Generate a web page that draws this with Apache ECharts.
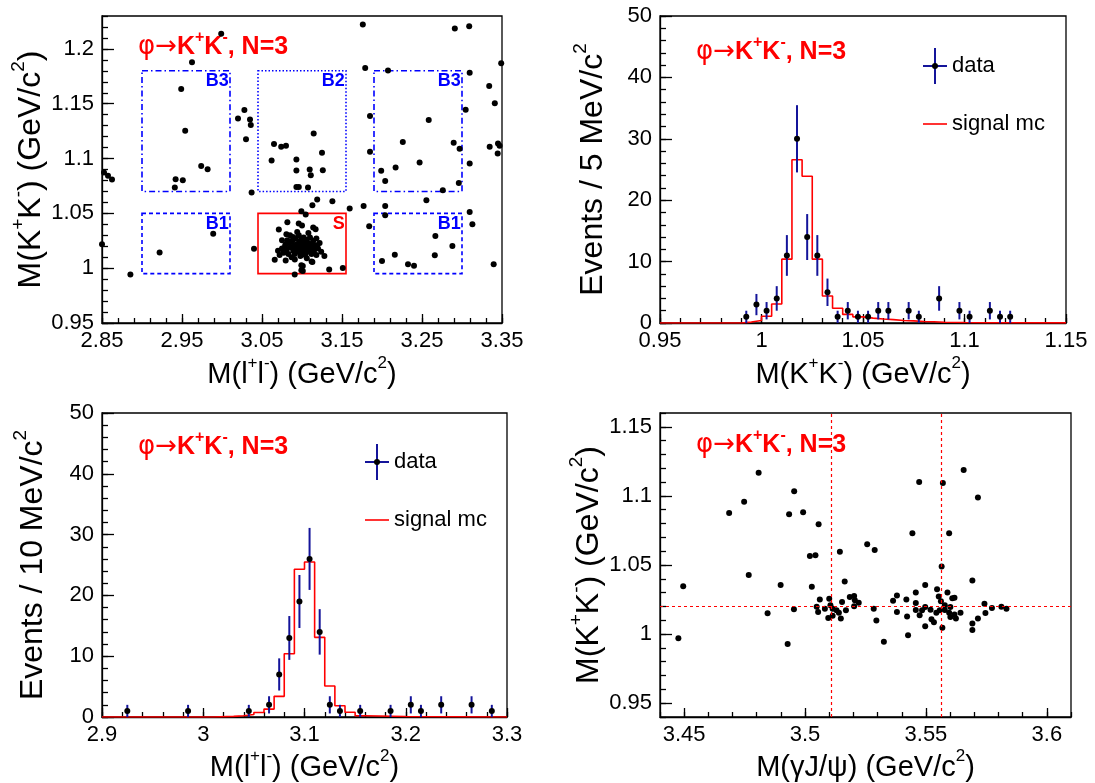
<!DOCTYPE html>
<html>
<head>
<meta charset="utf-8">
<script src="https://cdn.jsdelivr.net/npm/echarts@6/dist/echarts.min.js"></script>
<style>
  html, body { margin: 0; padding: 0; background: #fff; }
  #chart { width: 1095px; height: 783px; }
</style>
</head>
<body>
<div id="chart"></div>
<script>
// ---------- data ----------
// M(l+l-) vs M(K+K-) candidates, GeV/c^2
const mllVsMkk = [
  [2.999,1.2137],[2.9625,1.1878],[2.949,1.1634],[2.954,1.1253],[3.02,1.1366],[3.028,1.1442],[3.035,1.1357],
  [3.036,1.1305],[3.03,1.1175],[3.065,1.1132],[3.062,1.0983],[3.074,1.1107],[3.080,1.1116],[3.093,1.0992],
  [2.974,1.0933],[2.982,1.0903],[2.942,1.0812],[2.951,1.0803],[2.941,1.0736],[2.8525,1.0873],[2.8575,1.0842],
  [2.8625,1.0809],[3.037,1.069],[2.989,1.0315],[2.922,1.0142],[2.85,1.0218],[2.8855,0.9943],[3.04,1.0178],
  [3.093,1.089],[3.093,1.0741],[3.096,1.0741],
  [3.176,1.2222],[3.291,1.2186],[3.309,1.2207],[3.179,1.1826],[3.2075,1.1802],[3.3096,1.1783],[3.349,1.1869],
  [3.334,1.1662],[3.341,1.1504],[3.3046,1.1445],[3.185,1.1388],[3.2584,1.1351],[3.1146,1.1229],[3.226,1.115],
  [3.2896,1.1144],[3.297,1.1089],[3.3346,1.1107],[3.345,1.1138],[3.347,1.1116],[3.3446,1.1047],[3.125,1.1052],
  [3.185,1.1061],[3.247,1.0964],[3.217,1.0919],[3.3096,1.0955],
  [3.1096,1.090],[3.126,1.0894],[3.111,1.0848],[3.1075,1.0736],[3.199,1.0888],[3.204,1.0796],[3.296,1.0778],
  [3.276,1.0711],[3.2555,1.062],[3.119,1.0626],[3.138,1.061],[3.113,1.0574],[3.1596,1.0544],[3.177,1.0568],
  [3.204,1.0568],[3.204,1.0483],[3.3096,1.0513],[3.313,1.04],[3.184,1.0382],[3.2667,1.0293],[3.288,1.0202],
  [3.20,1.0065],[3.216,1.0123],[3.2325,1.0035],[3.24,1.0023],[3.266,1.0117],[3.3396,1.0035],
  // signal region
  [3.0659,1.0078],[3.0710,1.0352],[3.0750,1.0254],[3.0796,1.0071],[3.0805,1.0309],[3.0817,1.0419],[3.0817,1.0254],
  [3.0887,1.0284],[3.0959,1.0407],[3.0992,1.0519],[3.0992,1.0026],[3.0992,0.9980],[3.0909,0.9943],
  [3.1340,0.9989],[3.1510,1.0001],[3.1280,1.0110],[3.1190,1.0208],[3.1140,1.0370],[3.1170,1.0355],[3.1000,1.0390],
  [3.1046,1.0489],[3.1130,1.0056],[3.1010,1.0020],[3.1010,0.9974],
  [3.070,1.016],[3.072,1.012],[3.075,1.018],[3.077,1.014],[3.079,1.021],[3.081,1.017],[3.083,1.013],[3.084,1.023],
  [3.086,1.019],[3.087,1.010],[3.088,1.025],[3.089,1.016],[3.090,1.021],[3.091,1.013],[3.092,1.027],[3.093,1.018],
  [3.094,1.022],[3.095,1.015],[3.096,1.030],[3.096,1.020],[3.097,1.024],[3.098,1.017],[3.098,1.011],[3.099,1.026],
  [3.100,1.019],[3.100,1.022],[3.101,1.015],[3.102,1.028],[3.102,1.020],[3.103,1.024],[3.104,1.017],[3.104,1.012],
  [3.105,1.021],[3.106,1.026],[3.106,1.018],[3.107,1.023],[3.108,1.015],[3.109,1.020],[3.110,1.028],[3.110,1.017],
  [3.111,1.022],[3.112,1.013],[3.113,1.019],[3.114,1.025],[3.115,1.016],[3.116,1.021],[3.118,1.012],[3.120,1.018],
  [3.122,1.023],[3.124,1.015],[3.085,1.030],[3.094,1.033],[3.108,1.032],[3.091,1.008],[3.106,1.009],[3.118,1.027],
  [3.080,1.022],[3.112,1.006]
];

// signal / sideband boxes
const regionNames = ['B3', 'B2', 'B3', 'B1', 'S', 'B1'];
const regionLL = [[2.90,3.01],[3.045,3.155],[3.19,3.30],[2.90,3.01],[3.045,3.155],[3.19,3.30]];
const regionKK = [[1.07,1.18],[1.07,1.18],[1.07,1.18],[0.995,1.05],[0.995,1.05],[0.995,1.05]];

// M(K+K-) data, 5 MeV bins (bin centres, entries)
const kkCenters = [0.9925,0.9975,1.0025,1.0075,1.0125,1.0175,1.0225,1.0275,1.0325,1.0375,1.0425,1.0475,
                   1.0525,1.0575,1.0625,1.0725,1.0775,1.0875,1.0975,1.1025,1.1125,1.1175,1.1225];
const kkCounts  = [1,3,2,4,11,30,14,11,5,1,2,1,1,2,2,2,1,4,2,1,2,1,1];
// signal MC for M(K+K-), bin edges and contents
const kkMcEdges  = [0.95,0.99,0.995,1.0,1.005,1.01,1.015,1.02,1.025,1.03,1.035,1.04,1.045,1.05,1.055,1.06,
                    1.065,1.07,1.075,1.08,1.085,1.09,1.1,1.11,1.15];
const kkMcValues = [0,0.15,0.4,1.1,3.1,10.4,26.6,23.9,10.4,4.4,2.4,1.4,1.0,0.8,0.65,0.55,0.4,0.35,0.25,0.2,
                    0.12,0.08,0.05,0.02];

// M(l+l-) data, 10 MeV bins
const llCenters = [2.925,2.985,3.045,3.065,3.075,3.085,3.095,3.105,3.115,3.125,3.135,3.155,3.185,3.205,3.215,
                   3.235,3.265,3.285];
const llCounts  = [1,1,1,2,7,13,19,26,14,2,1,1,1,2,1,2,2,1];
const llMcEdges  = [2.9,3.01,3.03,3.04,3.05,3.06,3.07,3.08,3.09,3.10,3.11,3.12,3.13,3.14,3.15,3.16,3.2,3.3];
const llMcValues = [0,0.1,0.2,0.4,0.75,1.3,3.4,10.4,24.3,25.5,13.1,5.1,1.85,0.77,0.2,0.08,0];

// M(gamma J/psi) vs M(K+K-)
const mgjVsMkk = [
  [3.4476,0.9969],[3.4496,1.0347],[3.4686,1.0877],[3.4748,1.0958],[3.4808,1.1168],[3.4767,1.0428],[3.4845,1.0150],
  [3.4899,1.0356],[3.4928,0.9928],[3.4934,1.0867],[3.4955,1.1034],[3.4954,1.0179],[3.4992,1.0881],[3.5056,1.0795],
  [3.5020,1.0566],[3.5043,1.0571],[3.5028,1.0342],[3.5061,1.0251],[3.5048,1.0198],[3.5054,1.0160],[3.5082,1.0184],
  [3.5100,1.0256],[3.5105,1.0208],[3.5114,1.0184],[3.5096,1.0117],[3.5114,1.0132],[3.5130,1.0172],[3.5140,1.0155],
  [3.5148,1.0112],[3.5144,1.0595],[3.5164,1.0380],[3.5153,1.0232],[3.5169,1.0172],[3.5185,1.0268],[3.5203,1.0275],
  [3.5206,1.0244],[3.5203,1.0201],[3.5222,1.0227],[3.5257,1.0650],[3.5288,1.0609],[3.5284,1.0184],[3.5295,1.0098],
  [3.5326,0.9945],[3.5364,1.0241],[3.5380,1.0279],[3.5380,1.0160],[3.5419,1.0251],[3.5422,1.0127],[3.5426,0.9991],
  [3.5444,1.0729],[3.5472,1.1101],[3.5458,1.0301],[3.5458,1.0225],[3.5458,1.0175],[3.5474,1.0136],[3.5484,1.0172],
  [3.5497,1.0356],[3.5497,1.0196],[3.5497,1.0057],[3.5519,1.0177],[3.5523,1.0107],[3.5533,1.0086],[3.5546,1.0325],
  [3.5553,1.0272],[3.5543,1.0155],[3.5557,1.0172],[3.5565,1.0490],[3.5570,1.1094],[3.5562,1.0237],[3.5568,1.0046],
  [3.5578,1.0208],[3.5578,1.0175],[3.5589,1.0301],[3.5596,1.0729],[3.5596,1.0155],[3.5601,1.0196],[3.5609,1.0260],
  [3.5618,1.0263],[3.5601,1.0124],[3.5624,1.0112],[3.5618,1.0141],[3.5643,1.0155],[3.5656,1.1187],[3.5692,1.0387],
  [3.5692,1.0077],[3.5692,1.0029],[3.5715,1.0989],[3.5715,1.0112],[3.5742,1.0220],[3.5746,1.0153],[3.5773,1.0189],
  [3.5812,1.0198],[3.5833,1.0184]
];
// reference masses: chi_c1, chi_c2 and phi
const chiMasses = [3.5107, 3.5562];
const phiMass = [1.02];

// axis ticks
const p1XTicks = [2.85, 2.95, 3.05, 3.15, 3.25, 3.35];
const p1YTicks = [0.95, 1.0, 1.05, 1.1, 1.15, 1.2];
const p2XTicks = [0.95, 1.0, 1.05, 1.1, 1.15];
const countTicks = [0, 10, 20, 30, 40, 50];
const p3XTicks = [2.9, 3.0, 3.1, 3.2, 3.3];
const p4XTicks = [3.45, 3.5, 3.55, 3.6];
const p4YTicks = [0.95, 1.0, 1.05, 1.1, 1.15];

// ---------- styling ----------
const FONT = '"Liberation Sans", Arial, Helvetica, sans-serif';
const SYMFONT = '"DejaVu Sans", "Liberation Sans", sans-serif';
const RED = '#ff0000';
const BLUE = '#0000ff';
const BAR = '#14149a';

const fmt = v => String(Math.round(v * 100) / 100);

// five subdivisions between consecutive major ticks, extended to the axis ends
function minorsOf(majors, min, max) {
  const step = (majors[1] - majors[0]) / 5;
  const out = [];
  for (let v = majors[0]; v >= min - 1e-9; v -= step) out.push(+v.toFixed(4));
  for (let v = majors[0] + step; v <= max + 1e-9; v += step) out.push(+v.toFixed(4));
  return out;
}

const nameRichX = {
  n: { fontSize: 29, fontFamily: FONT, color: '#000', lineHeight: 34, verticalAlign: 'bottom' },
  s: { fontSize: 17, fontFamily: FONT, color: '#000', lineHeight: 14, verticalAlign: 'top' }
};
const nameRichY = {
  n: { fontSize: 32, fontFamily: FONT, color: '#000', lineHeight: 38, verticalAlign: 'bottom' },
  s: { fontSize: 19, fontFamily: FONT, color: '#000', lineHeight: 16, verticalAlign: 'top' }
};

function axisPair(dim, grid, min, max, majors, name, gap, majLen, minLen) {
  const major = {
    type: 'value', gridIndex: grid, min, max,
    position: dim === 'x' ? 'bottom' : 'left',
    axisLine: { onZero: false, lineStyle: { color: '#000', width: 1.3 } },
    axisTick: { inside: true, length: majLen, customValues: majors, lineStyle: { color: '#000', width: 1.3 } },
    axisLabel: { customValues: majors, formatter: fmt, fontSize: 22, fontFamily: FONT, color: '#000', margin: dim === 'x' ? 7 : 8 },
    splitLine: { show: false },
    name, nameLocation: 'middle', nameGap: gap,
    nameRotate: dim === 'x' ? 0 : 90,
    nameTextStyle: { rich: dim === 'x' ? nameRichX : nameRichY }
  };
  const minor = {
    type: 'value', gridIndex: grid, min, max,
    position: dim === 'x' ? 'bottom' : 'left',
    axisLine: { show: false, onZero: false },
    axisTick: { inside: true, length: minLen, customValues: minorsOf(majors, min, max), lineStyle: { color: '#000', width: 1.3 } },
    axisLabel: { show: false },
    splitLine: { show: false }
  };
  return [major, minor];
}

const nameLL = '{n|M(l}{s|+}{n|l}{s|-}{n|) (GeV/c}{s|2}{n|)}';
const nameKK = '{n|M(K}{s|+}{n|K}{s|-}{n|) (GeV/c}{s|2}{n|)}';
const nameGJ = '{n|M(γJ/ψ) (GeV/c}{s|2}{n|)}';
const nameEv5 = '{n|Events / 5 MeV/c}{s|2}';
const nameEv10 = '{n|Events / 10 MeV/c}{s|2}';

const grids = [
  { left: 102, top: 16, width: 400, height: 307 },
  { left: 660, top: 16, width: 406, height: 307 },
  { left: 102, top: 413, width: 405, height: 307 },
  { left: 660, top: 413, width: 411, height: 305 }
].map(g => Object.assign({ show: true, borderColor: '#000', borderWidth: 1.3, backgroundColor: 'transparent' }, g));

const xAxis = [].concat(
  axisPair('x', 0, 2.85, 3.35, p1XTicks, nameLL, 32, 9, 5),
  axisPair('x', 1, 0.95, 1.15, p2XTicks, nameKK, 32, 9, 5),
  axisPair('x', 2, 2.9, 3.3, p3XTicks, nameLL, 31, 9, 5),
  axisPair('x', 3, 3.44, 3.61, p4XTicks, nameGJ, 31, 9, 5)
);
const yAxis = [].concat(
  axisPair('y', 0, 0.95, 1.23, p1YTicks, nameKK, 55, 12, 6),
  axisPair('y', 1, 0, 50, countTicks, nameEv5, 51, 12, 6),
  axisPair('y', 2, 0, 50, countTicks, nameEv10, 53, 12, 6),
  axisPair('y', 3, 0.94, 1.16, p4YTicks, nameKK, 49, 12, 6)
);

// histogram outline from bin edges and contents
function stepData(edges, values) {
  return edges.map((e, i) => [e, values[Math.min(i, values.length - 1)]]);
}

function errorBars(axisIdx, centers, counts) {
  return {
    type: 'custom', xAxisIndex: axisIdx, yAxisIndex: axisIdx,
    data: centers.map((c, i) => [c, counts[i]]),
    encode: { x: 0, y: 1 },
    z: 3,
    renderItem: (params, api) => {
      const x = api.value(0), y = api.value(1), e = Math.sqrt(y);
      const p1 = api.coord([x, y + e]);
      const p2 = api.coord([x, Math.max(0, y - e)]);
      return { type: 'line', shape: { x1: p1[0], y1: p1[1], x2: p2[0], y2: p2[1] }, style: { stroke: BAR, lineWidth: 2 } };
    }
  };
}

function dataDots(axisIdx, centers, counts) {
  return {
    type: 'scatter', xAxisIndex: axisIdx, yAxisIndex: axisIdx,
    data: centers.map((c, i) => [c, counts[i]]),
    symbolSize: 6, itemStyle: { color: '#000', opacity: 1 }, z: 4, silent: true
  };
}

function mcLine(axisIdx, edges, values) {
  return {
    type: 'line', xAxisIndex: axisIdx, yAxisIndex: axisIdx,
    data: stepData(edges, values), step: 'end', showSymbol: false,
    lineStyle: { color: RED, width: 1.6 }, z: 2, silent: true
  };
}

const borderTypes = { B3: [6, 3, 1.5, 3], B2: [1.5, 2], B1: [4, 3], S: 'solid' };

const boxes = regionNames.map((nm, i) => {
  const col = nm === 'S' ? RED : BLUE;
  return [
    {
      name: nm, xAxis: regionLL[i][0], yAxis: regionKK[i][1],
      itemStyle: { color: 'rgba(0,0,0,0)', borderColor: col, borderWidth: 1.6, borderType: borderTypes[nm] },
      label: { show: true, position: 'insideTopRight', distance: 2, color: col, fontWeight: 'bold', fontSize: 18, fontFamily: FONT }
    },
    { xAxis: regionLL[i][1], yAxis: regionKK[i][0] }
  ];
});

const series = [
  {
    type: 'scatter', xAxisIndex: 0, yAxisIndex: 0, data: mllVsMkk,
    symbolSize: 6, itemStyle: { color: '#000', opacity: 1 }, silent: true, z: 3,
    markArea: { silent: true, data: boxes }
  },
  mcLine(2, kkMcEdges, kkMcValues),
  errorBars(2, kkCenters, kkCounts),
  dataDots(2, kkCenters, kkCounts),
  mcLine(4, llMcEdges, llMcValues),
  errorBars(4, llCenters, llCounts),
  dataDots(4, llCenters, llCounts),
  {
    type: 'scatter', xAxisIndex: 6, yAxisIndex: 6, data: mgjVsMkk,
    symbolSize: 6, itemStyle: { color: '#000', opacity: 1 }, silent: true, z: 3,
    markLine: {
      silent: true, symbol: 'none', animation: false, precision: 4,
      label: { show: false },
      lineStyle: { color: RED, width: 1.2, type: [3, 3] },
      data: chiMasses.map(m => ({ xAxis: m })).concat(phiMass.map(m => ({ yAxis: m })))
    }
  }
];

// panel titles and legends
const titleRich = {
  g: { fontSize: 26, fontFamily: SYMFONT, fill: RED, lineHeight: 30, verticalAlign: 'bottom' },
  b: { fontSize: 25, fontFamily: FONT, fill: RED, fontWeight: 'bold', lineHeight: 30, verticalAlign: 'bottom' },
  bs: { fontSize: 16, fontFamily: FONT, fill: RED, fontWeight: 'bold', lineHeight: 13, verticalAlign: 'top' }
};
const titleText = '{g|φ→}{b|K}{bs|+}{b|K}{bs|-}{b|, N=3}';
function panelTitle(x, y) {
  return { type: 'text', x, y, silent: true, style: { text: titleText, rich: titleRich, fill: RED, verticalAlign: 'middle', align: 'left' } };
}
function legend(cx, cy) {
  const t = (x, y, s) => ({ type: 'text', x, y, silent: true,
    style: { text: s, fontSize: 22, fontFamily: FONT, fill: '#000', verticalAlign: 'middle', align: 'left' } });
  return [
    { type: 'line', silent: true, shape: { x1: cx, y1: cy - 18, x2: cx, y2: cy + 18 }, style: { stroke: BAR, lineWidth: 2 } },
    { type: 'line', silent: true, shape: { x1: cx - 12, y1: cy, x2: cx + 12, y2: cy }, style: { stroke: BAR, lineWidth: 2 } },
    { type: 'circle', silent: true, shape: { cx, cy, r: 3 }, style: { fill: '#000' } },
    t(cx + 17, cy, 'data'),
    { type: 'line', silent: true, shape: { x1: cx - 12, y1: cy + 58, x2: cx + 12, y2: cy + 58 }, style: { stroke: RED, lineWidth: 1.6 } },
    t(cx + 17, cy + 58, 'signal mc')
  ];
}

const graphic = [
  panelTitle(138, 45),
  panelTitle(696, 50),
  panelTitle(138, 445),
  panelTitle(696, 443)
].concat(legend(935, 66), legend(377, 462));

const chart = echarts.init(document.getElementById('chart'), null, { renderer: 'canvas' });
chart.setOption({
  animation: false,
  backgroundColor: '#fff',
  grid: grids,
  xAxis, yAxis, series, graphic
});
</script>
</body>
</html>
